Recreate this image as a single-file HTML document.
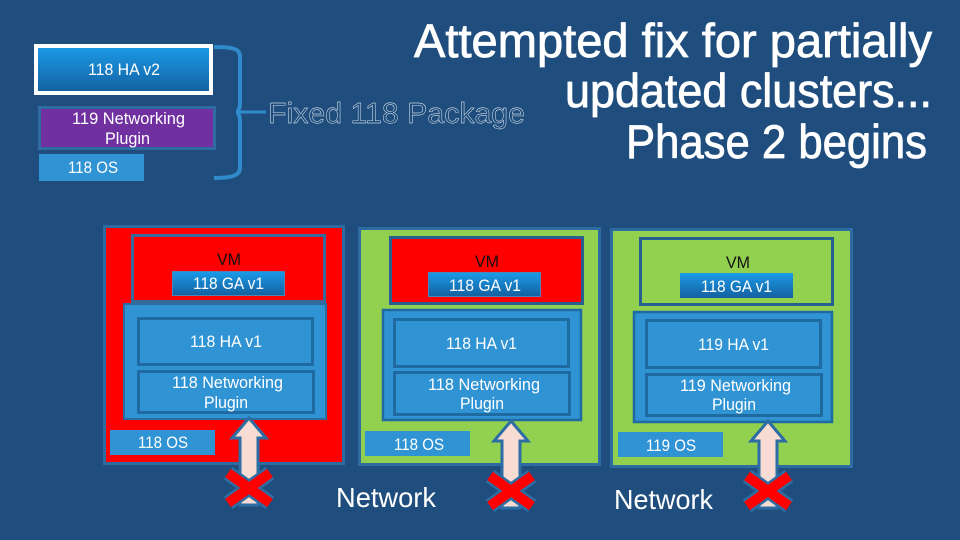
<!DOCTYPE html>
<html><head><meta charset="utf-8"><style>
html,body{margin:0;padding:0;background:#1f4e7e}
svg{display:block}
text{font-family:"Liberation Sans",sans-serif;fill:#fff;font-size:16.5px}
.k{fill:#111}
.t{font-size:47px;stroke:#fff;stroke-width:.8}
.n{font-size:28px}
.f{font-size:29px;fill:#1f4e7e;stroke:#fff;stroke-width:.4}
</style></head><body>
<svg width="960" height="540" viewBox="0 0 960 540" xmlns="http://www.w3.org/2000/svg">
<defs>
<linearGradient id="g" x1="0" y1="0" x2="0" y2="1"><stop offset="0" stop-color="#1b9be8"/><stop offset="1" stop-color="#14609f"/></linearGradient>
<g id="arrow">
<path d="M0 0 L17 20 H9 V87 H-9 V20 H-17 Z" fill="#f8dcd3" stroke="#2c6da3" stroke-width="3" stroke-linejoin="miter"/>
<path d="M-21 55 L21 85 M21 55 L-21 85" stroke="#2c6da3" stroke-width="15" fill="none"/>
<path d="M-21 55 L21 85 M21 55 L-21 85" stroke="#ff0000" stroke-width="10" fill="none"/>
</g>
</defs>
<rect width="960" height="540" fill="#1f4e7e"/>

<!-- top left stack -->
<rect x="36" y="46" width="175" height="47" fill="url(#g)" stroke="#fff" stroke-width="4"/>
<text x="88" y="75" textLength="72" lengthAdjust="spacingAndGlyphs">118 HA v2</text>
<rect x="39.500" y="107.500" width="175" height="41" fill="#7030a0" stroke="#2e6ba0" stroke-width="3"/>
<text x="72" y="124" textLength="113" lengthAdjust="spacingAndGlyphs">119 Networking</text>
<text x="105" y="144" textLength="45" lengthAdjust="spacingAndGlyphs">Plugin</text>
<rect x="39" y="154" width="105" height="27" fill="#3093d3"/>
<text x="68" y="173" textLength="50" lengthAdjust="spacingAndGlyphs">118 OS</text>

<!-- bracket -->
<path d="M214 47 C230 47 240 48 240 56 V104 C240 108 238 112 236 112 C238 112 240 116 240 120 V168 C240 176 230 178 214 178" fill="none" stroke="#2f8bcb" stroke-width="4"/>
<path d="M238 112 H266" stroke="#2f8bcb" stroke-width="3"/>
<text class="f" x="268" y="123" textLength="257" lengthAdjust="spacingAndGlyphs">Fixed 118 Package</text>

<!-- title -->
<text class="t" x="414" y="57" textLength="518" lengthAdjust="spacingAndGlyphs">Attempted fix for partially</text>
<text class="t" x="565" y="107" textLength="367" lengthAdjust="spacingAndGlyphs">updated clusters...</text>
<text class="t" x="626" y="158" textLength="301" lengthAdjust="spacingAndGlyphs">Phase 2 begins</text>

<!-- column 1 -->
<rect x="104.500" y="226.500" width="239" height="237" fill="#ff0000" stroke="#2e6ba0" stroke-width="3"/>
<rect x="132.500" y="235.500" width="192" height="66" fill="#ff0000" stroke="#356a9a" stroke-width="3"/>
<text class="k" x="217" y="265" textLength="24" lengthAdjust="spacingAndGlyphs">VM</text>
<rect x="172.500" y="271.500" width="112" height="24" fill="url(#g)" stroke="#4d86b5"/>
<text x="193" y="289" textLength="71" lengthAdjust="spacingAndGlyphs">118 GA v1</text>
<rect x="124" y="304" width="202" height="115" fill="#3093d3" stroke="#2e6ba0" stroke-width="2"/>
<rect x="138.500" y="318.500" width="174" height="46" fill="#3093d3" stroke="#1f6aa0" stroke-width="3"/>
<text x="190" y="347" textLength="72" lengthAdjust="spacingAndGlyphs">118 HA v1</text>
<rect x="138.500" y="371.500" width="175" height="41" fill="#3093d3" stroke="#1f6aa0" stroke-width="3"/>
<text x="172" y="388" textLength="111" lengthAdjust="spacingAndGlyphs">118 Networking</text>
<text x="204" y="408" textLength="44" lengthAdjust="spacingAndGlyphs">Plugin</text>
<rect x="110" y="430" width="105" height="25" fill="#3093d3"/>
<text x="138" y="448" textLength="50" lengthAdjust="spacingAndGlyphs">118 OS</text>
<use href="#arrow" x="249" y="418"/>

<!-- column 2 -->
<rect x="359.500" y="228.500" width="240" height="236" fill="#92d050" stroke="#2e6ba0" stroke-width="3"/>
<rect x="390.500" y="237.500" width="192" height="66" fill="#ff0000" stroke="#27608f" stroke-width="3"/>
<text class="k" x="475" y="267" textLength="24" lengthAdjust="spacingAndGlyphs">VM</text>
<rect x="428.500" y="272.500" width="112" height="24" fill="url(#g)" stroke="#4d86b5"/>
<text x="449" y="291" textLength="72" lengthAdjust="spacingAndGlyphs">118 GA v1</text>
<rect x="383" y="310" width="198" height="110" fill="#3093d3" stroke="#1f6aa0" stroke-width="2.500"/>
<rect x="394.500" y="319.500" width="174" height="47" fill="#3093d3" stroke="#1f6aa0" stroke-width="3"/>
<text x="446" y="349" textLength="71" lengthAdjust="spacingAndGlyphs">118 HA v1</text>
<rect x="394.500" y="372.500" width="175" height="42" fill="#3093d3" stroke="#1f6aa0" stroke-width="3"/>
<text x="428" y="390" textLength="112" lengthAdjust="spacingAndGlyphs">118 Networking</text>
<text x="460" y="409" textLength="44" lengthAdjust="spacingAndGlyphs">Plugin</text>
<rect x="365" y="431" width="105" height="25" fill="#3093d3"/>
<text x="394" y="450" textLength="50" lengthAdjust="spacingAndGlyphs">118 OS</text>
<use href="#arrow" x="511" y="421"/>
<text class="n" x="336" y="507" textLength="100" lengthAdjust="spacingAndGlyphs">Network</text>

<!-- column 3 -->
<rect x="611.500" y="229.500" width="240" height="237" fill="#92d050" stroke="#2e6ba0" stroke-width="3"/>
<rect x="640.500" y="238.500" width="192" height="66" fill="#92d050" stroke="#27608f" stroke-width="3"/>
<text class="k" x="726" y="268" textLength="24" lengthAdjust="spacingAndGlyphs">VM</text>
<rect x="680" y="273" width="113" height="25" fill="url(#g)"/>
<text x="701" y="292" textLength="71" lengthAdjust="spacingAndGlyphs">118 GA v1</text>
<rect x="634" y="312" width="198" height="110" fill="#3093d3" stroke="#1f6aa0" stroke-width="2.500"/>
<rect x="646.500" y="320.500" width="174" height="47" fill="#3093d3" stroke="#1f6aa0" stroke-width="3"/>
<text x="698" y="350" textLength="71" lengthAdjust="spacingAndGlyphs">119 HA v1</text>
<rect x="646.500" y="374.500" width="175" height="41" fill="#3093d3" stroke="#1f6aa0" stroke-width="3"/>
<text x="680" y="391" textLength="111" lengthAdjust="spacingAndGlyphs">119 Networking</text>
<text x="712" y="410" textLength="44" lengthAdjust="spacingAndGlyphs">Plugin</text>
<rect x="618" y="432" width="105" height="25" fill="#3093d3"/>
<text x="646" y="451" textLength="50" lengthAdjust="spacingAndGlyphs">119 OS</text>
<use href="#arrow" x="768" y="421"/>
<text class="n" x="614" y="509" textLength="99" lengthAdjust="spacingAndGlyphs">Network</text>
</svg>
</body></html>
